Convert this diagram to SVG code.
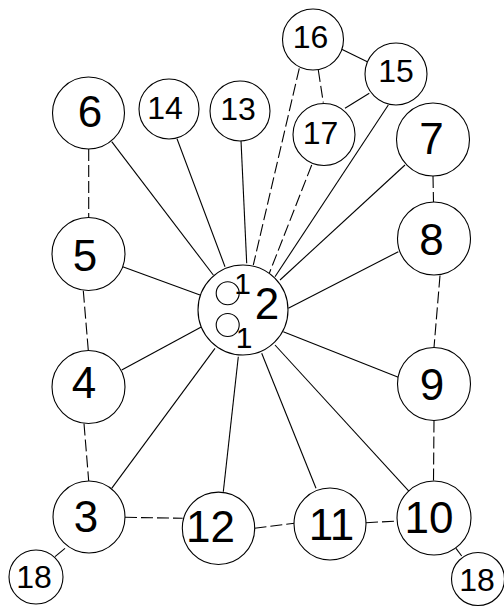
<svg xmlns="http://www.w3.org/2000/svg" width="504" height="607" viewBox="0 0 504 607">
<style>
.n circle{fill:#fff;stroke:#000;stroke-width:1.1}
.n text{font-family:"Liberation Sans",Arial,sans-serif;fill:#000;text-anchor:middle}
.b{font-size:44px}
.s{font-size:32px}
.m{font-size:30px}
#edges line{stroke:#000;stroke-width:1.1;fill:none}
#edges line.d{stroke-dasharray:12 4}
</style>
<rect width="504" height="607" fill="#fff"/>
<g id="edges">
<line x1="111.7" y1="141.7" x2="213.3" y2="275"/>
<line x1="177" y1="138.7" x2="225" y2="266.7"/>
<line x1="241" y1="140.5" x2="246.7" y2="263.3"/>
<line class="d" x1="299.3" y1="68.3" x2="253.3" y2="265"/>
<line class="d" x1="311.7" y1="165" x2="269.3" y2="273.3"/>
<line x1="388.3" y1="105" x2="275" y2="276.7"/>
<line x1="405" y1="165" x2="280" y2="280"/>
<line x1="398.3" y1="251.7" x2="288.3" y2="308.3"/>
<line x1="398.3" y1="377.3" x2="283.3" y2="331.7"/>
<line x1="409.3" y1="491.7" x2="275" y2="345"/>
<line x1="316" y1="488.3" x2="261.7" y2="353.3"/>
<line x1="223.3" y1="491.7" x2="238.3" y2="356.7"/>
<line x1="111.7" y1="488.3" x2="215" y2="348.3"/>
<line x1="121.7" y1="370" x2="201.7" y2="326.7"/>
<line x1="122.7" y1="266.7" x2="200" y2="295"/>
<line x1="341.7" y1="49.3" x2="367.3" y2="61.7"/>
<line class="d" x1="318.3" y1="70" x2="323.3" y2="102.7"/>
<line x1="345" y1="108.3" x2="369.3" y2="93.3"/>
<line class="d" x1="88.7" y1="149" x2="88.7" y2="217"/>
<line class="d" x1="83.3" y1="290.7" x2="88.3" y2="350.5"/>
<line class="d" x1="84" y1="423.5" x2="88.7" y2="481"/>
<line class="d" x1="433" y1="176" x2="433.5" y2="202"/>
<line class="d" x1="440" y1="275.5" x2="434" y2="347.5"/>
<line class="d" x1="434" y1="420.5" x2="433.5" y2="481"/>
<line class="d" x1="125" y1="517.3" x2="182.7" y2="518.3"/>
<line class="d" x1="254.5" y1="528.3" x2="294.3" y2="523.3"/>
<line class="d" x1="366" y1="522.7" x2="397.5" y2="521"/>
<line x1="65" y1="548.3" x2="55" y2="556.7"/>
<line x1="456" y1="548.3" x2="461.7" y2="556"/>
</g>
<g id="n2" class="n"><circle cx="243" cy="310" r="45"/><circle cx="227.7" cy="293.3" r="11.5"/><circle cx="227.7" cy="325" r="11.5"/><text class="m" x="242.5" y="294">1</text><text class="b" x="267" y="319">2</text><text class="m" x="244" y="348">1</text></g>
<g id="n3" class="n"><circle cx="89" cy="517" r="36"/><text class="b" x="86" y="531.7">3</text></g>
<g id="n4" class="n"><circle cx="88.5" cy="387" r="36.5"/><text class="b" x="84" y="398">4</text></g>
<g id="n5" class="n"><circle cx="88.5" cy="254" r="36.5"/><text class="b" x="85" y="271">5</text></g>
<g id="n6" class="n"><circle cx="88.5" cy="113" r="36"/><text class="b" x="90" y="127">6</text></g>
<g id="n7" class="n"><circle cx="433" cy="139.5" r="36.5"/><text class="b" x="431.5" y="154">7</text></g>
<g id="n8" class="n"><circle cx="434" cy="238.5" r="36.5"/><text class="b" x="431.5" y="255">8</text></g>
<g id="n9" class="n"><circle cx="434" cy="384" r="36.5"/><text class="b" x="432" y="400">9</text></g>
<g id="n10" class="n"><circle cx="434" cy="518" r="37"/><text class="b" x="429" y="533">10</text></g>
<g id="n11" class="n"><circle cx="330" cy="524" r="36"/><text class="b" x="331.5" y="540">11</text></g>
<g id="n12" class="n"><circle cx="218.5" cy="528.3" r="36.2"/><text class="b" x="210.5" y="541.7">12</text></g>
<g id="n13" class="n"><circle cx="240" cy="111" r="30"/><text class="s" x="238" y="120">13</text></g>
<g id="n14" class="n"><circle cx="169" cy="109" r="30"/><text class="s" x="165" y="119.3">14</text></g>
<g id="n15" class="n"><circle cx="396" cy="74" r="31"/><text class="s" x="396" y="81.7">15</text></g>
<g id="n16" class="n"><circle cx="313" cy="39.5" r="30.5"/><text class="s" x="310.5" y="48.3">16</text></g>
<g id="n17" class="n"><circle cx="324" cy="134.5" r="31"/><text class="s" x="320.5" y="144">17</text></g>
<g id="n18a" class="n"><circle cx="36" cy="577" r="27"/><text class="s" x="34" y="588">18</text></g>
<g id="n18b" class="n"><circle cx="478" cy="579" r="26.5"/><text class="s" x="477" y="590.5">18</text></g>
</svg>
